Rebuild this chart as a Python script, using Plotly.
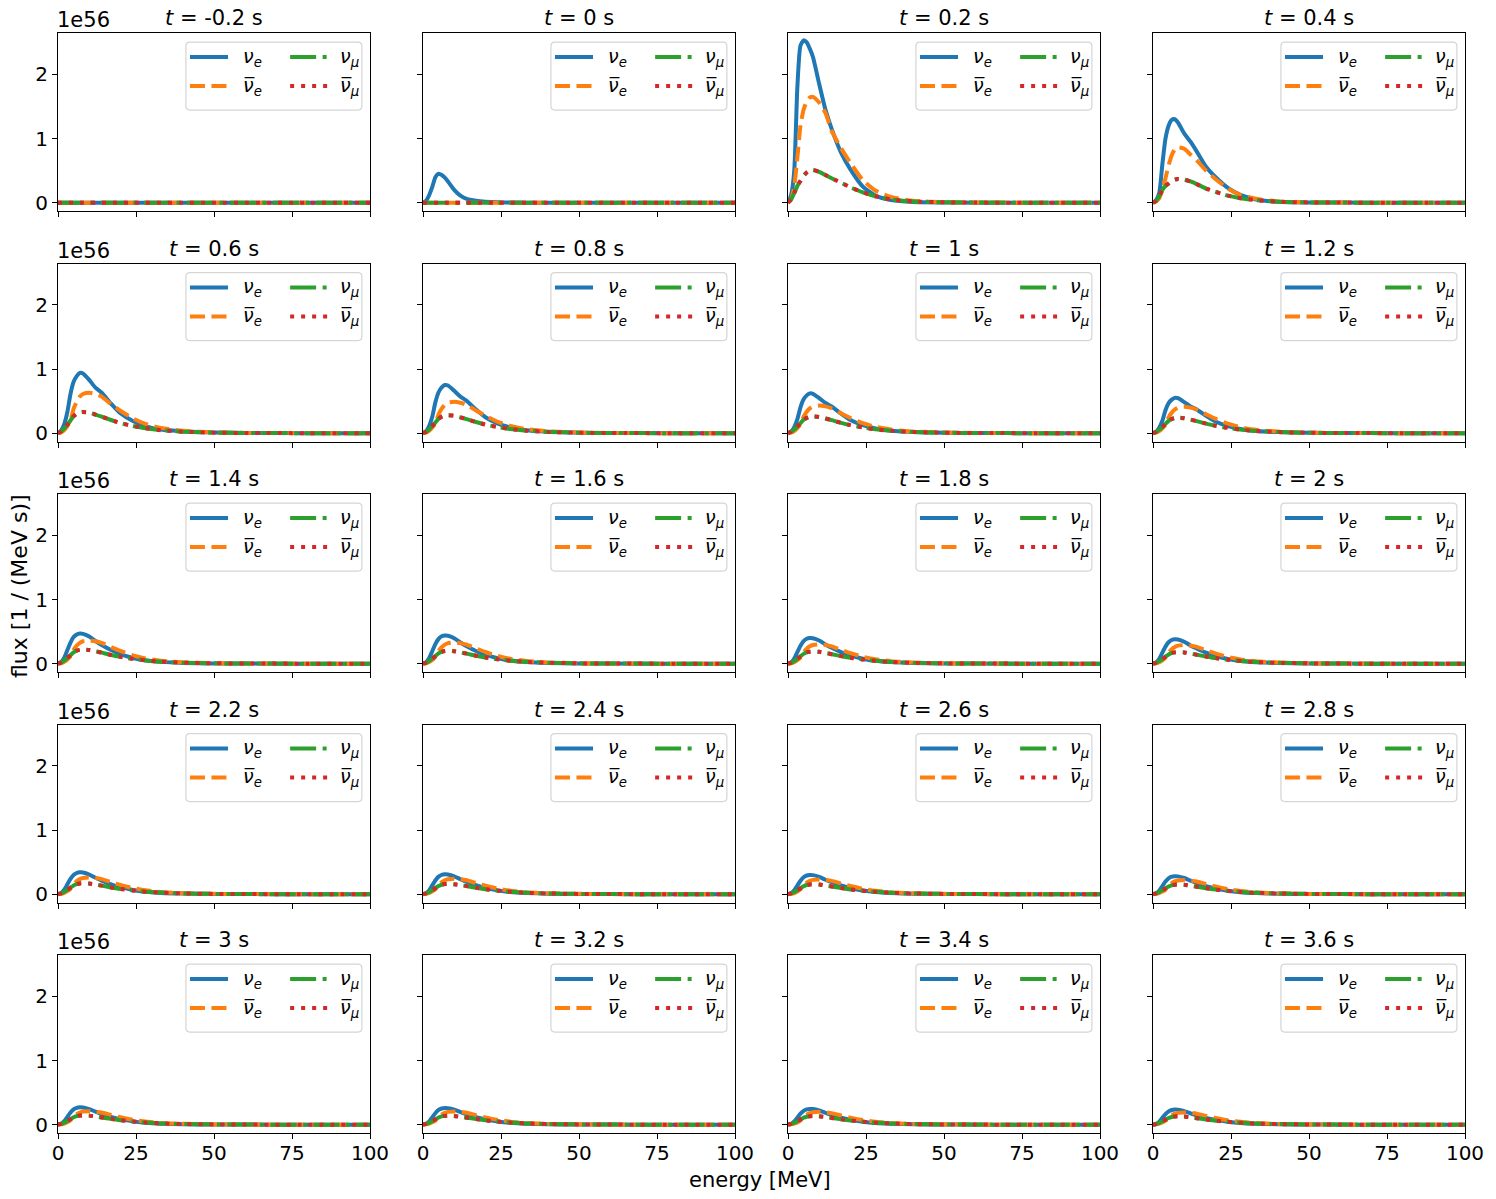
import plotly.graph_objects as go

# ---------------- data (flux in units of 1e56 / (MeV s)) ----------------
energy = [0, 1, 2, 3, 4, 5, 6, 7, 8, 10, 12, 14, 17, 20, 24, 28, 33, 40, 50, 60, 80, 100]

times = ["-0.2", "0", "0.2", "0.4", "0.6", "0.8", "1", "1.2", "1.4", "1.6",
         "1.8", "2", "2.2", "2.4", "2.6", "2.8", "3", "3.2", "3.4", "3.6"]

nu_e = [
    [0] * 22,
    [0, 0.03, 0.12, 0.25, 0.40, 0.45, 0.43, 0.39, 0.33, 0.20, 0.11, 0.06, 0.03, 0.015, 0.005, 0.002, 0, 0, 0, 0, 0, 0],
    [0, 0.12, 0.50, 1.80, 2.45, 2.53, 2.50, 2.40, 2.27, 1.85, 1.45, 1.15, 0.78, 0.52, 0.25, 0.11, 0.04, 0.01, 0.003, 0, 0, 0],
    [0, 0.04, 0.15, 0.60, 1.00, 1.20, 1.29, 1.30, 1.25, 1.08, 0.95, 0.80, 0.56, 0.40, 0.23, 0.12, 0.05, 0.015, 0.004, 0.001, 0, 0],
    [0, 0.04, 0.14, 0.33, 0.61, 0.80, 0.89, 0.94, 0.93, 0.83, 0.71, 0.63, 0.46, 0.31, 0.19, 0.11, 0.056, 0.028, 0.009, 0.003, 0, 0],
    [0, 0.03, 0.113, 0.263, 0.488, 0.638, 0.713, 0.75, 0.743, 0.66, 0.57, 0.503, 0.368, 0.248, 0.15, 0.09, 0.045, 0.023, 0.008, 0.002, 0, 0],
    [0, 0.025, 0.093, 0.217, 0.403, 0.527, 0.589, 0.62, 0.614, 0.546, 0.471, 0.415, 0.304, 0.205, 0.124, 0.074, 0.037, 0.019, 0.006, 0.002, 0, 0],
    [0, 0.022, 0.083, 0.193, 0.358, 0.468, 0.523, 0.55, 0.545, 0.484, 0.418, 0.369, 0.27, 0.182, 0.11, 0.066, 0.033, 0.017, 0.006, 0.002, 0, 0],
    [0, 0.024, 0.094, 0.212, 0.329, 0.414, 0.456, 0.47, 0.465, 0.423, 0.353, 0.291, 0.212, 0.15, 0.089, 0.052, 0.028, 0.012, 0.004, 0.001, 0, 0],
    [0, 0.022, 0.088, 0.198, 0.308, 0.387, 0.427, 0.44, 0.436, 0.396, 0.33, 0.273, 0.198, 0.141, 0.084, 0.048, 0.026, 0.011, 0.004, 0.001, 0, 0],
    [0, 0.02, 0.08, 0.18, 0.28, 0.352, 0.388, 0.40, 0.396, 0.36, 0.30, 0.248, 0.18, 0.128, 0.076, 0.044, 0.024, 0.01, 0.003, 0.001, 0, 0],
    [0, 0.019, 0.076, 0.171, 0.266, 0.334, 0.369, 0.38, 0.376, 0.342, 0.285, 0.236, 0.171, 0.122, 0.072, 0.042, 0.023, 0.01, 0.003, 0.001, 0, 0],
    [0, 0.017, 0.068, 0.153, 0.238, 0.299, 0.33, 0.34, 0.337, 0.306, 0.255, 0.211, 0.153, 0.109, 0.065, 0.037, 0.02, 0.009, 0.003, 0.001, 0, 0],
    [0, 0.016, 0.062, 0.14, 0.217, 0.273, 0.301, 0.31, 0.307, 0.279, 0.233, 0.192, 0.14, 0.099, 0.059, 0.034, 0.019, 0.008, 0.002, 0.001, 0, 0],
    [0, 0.015, 0.06, 0.135, 0.21, 0.264, 0.291, 0.30, 0.297, 0.27, 0.225, 0.186, 0.135, 0.096, 0.057, 0.033, 0.018, 0.008, 0.002, 0.001, 0, 0],
    [0, 0.014, 0.056, 0.126, 0.196, 0.246, 0.272, 0.28, 0.277, 0.252, 0.21, 0.174, 0.126, 0.09, 0.053, 0.031, 0.017, 0.007, 0.002, 0.001, 0, 0],
    [0, 0.014, 0.054, 0.122, 0.189, 0.238, 0.262, 0.27, 0.267, 0.243, 0.203, 0.167, 0.122, 0.086, 0.051, 0.03, 0.016, 0.007, 0.002, 0.001, 0, 0],
    [0, 0.013, 0.052, 0.117, 0.182, 0.229, 0.252, 0.26, 0.257, 0.234, 0.195, 0.161, 0.117, 0.083, 0.049, 0.029, 0.016, 0.007, 0.002, 0.001, 0, 0],
    [0, 0.012, 0.049, 0.11, 0.172, 0.216, 0.238, 0.245, 0.243, 0.221, 0.184, 0.152, 0.11, 0.078, 0.047, 0.027, 0.015, 0.006, 0.002, 0, 0, 0],
    [0, 0.012, 0.047, 0.106, 0.165, 0.207, 0.228, 0.235, 0.233, 0.212, 0.176, 0.146, 0.106, 0.075, 0.045, 0.026, 0.014, 0.006, 0.002, 0, 0, 0],
]

nu_e_bar = [
    [0] * 22,
    [0] * 22,
    [0, 0.05, 0.25, 0.70, 1.20, 1.45, 1.58, 1.64, 1.65, 1.56, 1.40, 1.12, 0.85, 0.62, 0.35, 0.19, 0.09, 0.03, 0.008, 0.002, 0, 0],
    [0, 0.02, 0.07, 0.20, 0.38, 0.58, 0.74, 0.83, 0.86, 0.84, 0.75, 0.66, 0.50, 0.37, 0.22, 0.12, 0.06, 0.02, 0.005, 0.001, 0, 0],
    [0, 0.013, 0.05, 0.11, 0.20, 0.38, 0.49, 0.57, 0.61, 0.63, 0.61, 0.57, 0.45, 0.35, 0.23, 0.145, 0.082, 0.038, 0.013, 0.004, 0.001, 0],
    [0, 0.01, 0.039, 0.088, 0.157, 0.294, 0.382, 0.441, 0.475, 0.49, 0.475, 0.441, 0.353, 0.27, 0.176, 0.113, 0.064, 0.029, 0.01, 0.003, 0, 0],
    [0, 0.009, 0.034, 0.077, 0.138, 0.258, 0.335, 0.387, 0.417, 0.43, 0.417, 0.387, 0.31, 0.237, 0.155, 0.099, 0.056, 0.026, 0.009, 0.003, 0, 0],
    [0, 0.008, 0.033, 0.074, 0.131, 0.246, 0.32, 0.369, 0.398, 0.41, 0.398, 0.369, 0.295, 0.226, 0.148, 0.094, 0.053, 0.025, 0.008, 0.002, 0, 0],
    [0, 0.007, 0.029, 0.065, 0.115, 0.216, 0.281, 0.324, 0.349, 0.36, 0.349, 0.324, 0.259, 0.198, 0.13, 0.083, 0.047, 0.022, 0.007, 0.002, 0, 0],
    [0, 0.007, 0.026, 0.059, 0.106, 0.198, 0.257, 0.297, 0.32, 0.33, 0.32, 0.297, 0.238, 0.182, 0.119, 0.076, 0.043, 0.02, 0.007, 0.002, 0, 0],
    [0, 0.006, 0.024, 0.054, 0.096, 0.18, 0.234, 0.27, 0.291, 0.30, 0.291, 0.27, 0.216, 0.165, 0.108, 0.069, 0.039, 0.018, 0.006, 0.002, 0, 0],
    [0, 0.006, 0.023, 0.052, 0.093, 0.174, 0.226, 0.261, 0.281, 0.29, 0.281, 0.261, 0.209, 0.16, 0.104, 0.067, 0.038, 0.017, 0.006, 0.002, 0, 0],
    [0, 0.005, 0.021, 0.047, 0.083, 0.156, 0.203, 0.234, 0.252, 0.26, 0.252, 0.234, 0.187, 0.143, 0.094, 0.06, 0.034, 0.016, 0.005, 0.002, 0, 0],
    [0, 0.005, 0.019, 0.043, 0.077, 0.144, 0.187, 0.216, 0.233, 0.24, 0.233, 0.216, 0.173, 0.132, 0.086, 0.055, 0.031, 0.014, 0.005, 0.001, 0, 0],
    [0, 0.005, 0.018, 0.041, 0.074, 0.138, 0.179, 0.207, 0.223, 0.23, 0.223, 0.207, 0.166, 0.127, 0.083, 0.053, 0.03, 0.014, 0.005, 0.001, 0, 0],
    [0, 0.004, 0.018, 0.04, 0.07, 0.132, 0.172, 0.198, 0.213, 0.22, 0.213, 0.198, 0.158, 0.121, 0.079, 0.051, 0.029, 0.013, 0.004, 0.001, 0, 0],
    [0, 0.004, 0.017, 0.038, 0.067, 0.126, 0.164, 0.189, 0.204, 0.21, 0.204, 0.189, 0.151, 0.116, 0.076, 0.048, 0.027, 0.013, 0.004, 0.001, 0, 0],
    [0, 0.004, 0.016, 0.037, 0.066, 0.123, 0.16, 0.185, 0.199, 0.205, 0.199, 0.185, 0.148, 0.113, 0.074, 0.047, 0.027, 0.012, 0.004, 0.001, 0, 0],
    [0, 0.004, 0.016, 0.036, 0.064, 0.12, 0.156, 0.18, 0.194, 0.20, 0.194, 0.18, 0.144, 0.11, 0.072, 0.046, 0.026, 0.012, 0.004, 0.001, 0, 0],
    [0, 0.004, 0.015, 0.034, 0.061, 0.114, 0.148, 0.171, 0.184, 0.19, 0.184, 0.171, 0.137, 0.105, 0.068, 0.044, 0.025, 0.011, 0.004, 0.001, 0, 0],
]

nu_mu = [
    [0] * 22,
    [0] * 22,
    [0, 0.05, 0.15, 0.26, 0.34, 0.42, 0.47, 0.50, 0.51, 0.48, 0.43, 0.38, 0.31, 0.24, 0.16, 0.10, 0.05, 0.02, 0.005, 0.001, 0, 0],
    [0, 0.03, 0.10, 0.20, 0.26, 0.30, 0.34, 0.36, 0.37, 0.36, 0.33, 0.29, 0.22, 0.17, 0.11, 0.07, 0.04, 0.015, 0.004, 0.001, 0, 0],
    [0, 0.026, 0.073, 0.132, 0.198, 0.264, 0.304, 0.323, 0.33, 0.32, 0.29, 0.257, 0.205, 0.158, 0.112, 0.076, 0.046, 0.023, 0.008, 0.003, 0, 0],
    [0, 0.022, 0.062, 0.112, 0.168, 0.224, 0.258, 0.274, 0.28, 0.272, 0.246, 0.218, 0.174, 0.134, 0.095, 0.064, 0.039, 0.02, 0.007, 0.002, 0, 0],
    [0, 0.021, 0.057, 0.104, 0.156, 0.208, 0.239, 0.255, 0.26, 0.252, 0.229, 0.203, 0.161, 0.125, 0.088, 0.06, 0.036, 0.018, 0.007, 0.002, 0, 0],
    [0, 0.019, 0.053, 0.096, 0.144, 0.192, 0.221, 0.235, 0.24, 0.233, 0.211, 0.187, 0.149, 0.115, 0.082, 0.055, 0.034, 0.017, 0.006, 0.002, 0, 0],
    [0, 0.018, 0.048, 0.088, 0.132, 0.176, 0.202, 0.216, 0.22, 0.213, 0.194, 0.172, 0.136, 0.106, 0.075, 0.051, 0.031, 0.015, 0.006, 0.002, 0, 0],
    [0, 0.016, 0.044, 0.08, 0.12, 0.16, 0.184, 0.196, 0.20, 0.194, 0.176, 0.156, 0.124, 0.096, 0.068, 0.046, 0.028, 0.014, 0.005, 0.002, 0, 0],
    [0, 0.015, 0.042, 0.076, 0.114, 0.152, 0.175, 0.186, 0.19, 0.184, 0.167, 0.148, 0.118, 0.091, 0.065, 0.044, 0.027, 0.013, 0.005, 0.002, 0, 0],
    [0, 0.014, 0.04, 0.072, 0.108, 0.144, 0.166, 0.176, 0.18, 0.175, 0.158, 0.14, 0.112, 0.086, 0.061, 0.041, 0.025, 0.013, 0.005, 0.001, 0, 0],
    [0, 0.014, 0.037, 0.068, 0.102, 0.136, 0.156, 0.167, 0.17, 0.165, 0.15, 0.133, 0.105, 0.082, 0.058, 0.039, 0.024, 0.012, 0.004, 0.001, 0, 0],
    [0, 0.013, 0.035, 0.064, 0.096, 0.128, 0.147, 0.157, 0.16, 0.155, 0.141, 0.125, 0.099, 0.077, 0.054, 0.037, 0.022, 0.011, 0.004, 0.001, 0, 0],
    [0, 0.012, 0.034, 0.062, 0.093, 0.124, 0.143, 0.152, 0.155, 0.15, 0.136, 0.121, 0.096, 0.074, 0.053, 0.036, 0.022, 0.011, 0.004, 0.001, 0, 0],
    [0, 0.012, 0.033, 0.06, 0.09, 0.12, 0.138, 0.147, 0.15, 0.146, 0.132, 0.117, 0.093, 0.072, 0.051, 0.035, 0.021, 0.011, 0.004, 0.001, 0, 0],
    [0, 0.012, 0.032, 0.058, 0.087, 0.116, 0.133, 0.142, 0.145, 0.141, 0.128, 0.113, 0.09, 0.07, 0.049, 0.033, 0.02, 0.01, 0.004, 0.001, 0, 0],
    [0, 0.011, 0.031, 0.056, 0.084, 0.112, 0.129, 0.137, 0.14, 0.136, 0.123, 0.109, 0.087, 0.067, 0.048, 0.032, 0.02, 0.01, 0.004, 0.001, 0, 0],
    [0, 0.011, 0.03, 0.054, 0.081, 0.108, 0.124, 0.132, 0.135, 0.131, 0.119, 0.105, 0.084, 0.065, 0.046, 0.031, 0.019, 0.009, 0.003, 0.001, 0, 0],
    [0, 0.01, 0.029, 0.052, 0.078, 0.104, 0.12, 0.127, 0.13, 0.126, 0.114, 0.101, 0.081, 0.062, 0.044, 0.03, 0.018, 0.009, 0.003, 0.001, 0, 0],
]

# the anti-muon-neutrino curves lie on top of the muon-neutrino curves
nu_mu_bar = [list(row) for row in nu_mu]

species_labels = [
    "<i>ν</i><sub><i>e</i></sub>",
    "<i>ν̅</i><sub><i>e</i></sub>",
    "<i>ν</i><sub><i>μ</i></sub>",
    "<i>ν̅</i><sub><i>μ</i></sub>",
]

# ---------------- styles ----------------
FONT = "DejaVu Sans"
colors = ["#1f77b4", "#ff7f0e", "#2ca02c", "#d62728"]
dashes = ["solid", "15px,6.5px", "26px,6.5px,4px,6.5px", "4px,7px"]
LW = 4
series = [nu_e, nu_e_bar, nu_mu, nu_mu_bar]

W, H = 1496, 1199
col_left = [58, 423, 788, 1153]
panel_w = 312
row_top = [33, 263.5, 494, 724.5, 955]
panel_h = 178

fig = go.Figure()
layout = dict(
    width=W, height=H,
    margin=dict(l=0, r=0, t=0, b=0, pad=0, autoexpand=False),
    paper_bgcolor="white", plot_bgcolor="white",
    showlegend=False,
    font=dict(family=FONT, color="black", size=20),
)
shapes = []
annotations = []

for k in range(20):
    r, c = divmod(k, 4)
    ax = "" if k == 0 else str(k + 1)
    xd = [col_left[c] / W, (col_left[c] + panel_w) / W]
    yd = [1 - (row_top[r] + panel_h) / H, 1 - row_top[r] / H]
    common = dict(
        showgrid=False, zeroline=False, showline=True, mirror=True,
        linecolor="black", linewidth=1.2, ticks="outside", ticklen=5,
        tickwidth=1.2, tickcolor="black", fixedrange=True, automargin=False,
        tickfont=dict(family=FONT, size=20, color="black"),
    )
    layout["xaxis" + ax] = dict(
        domain=xd, range=[0, 100], anchor="y" + ax,
        tickvals=[0, 25, 50, 75, 100], ticktext=["0", "25", "50", "75", "100"],
        showticklabels=(r == 4), ticklabelstandoff=-3, **common,
    )
    layout["yaxis" + ax] = dict(
        domain=yd, range=[-0.13, 2.645], anchor="x" + ax,
        tickvals=[0, 1, 2], ticktext=["0", "1", "2"],
        showticklabels=(c == 0), **common,
    )
    for s in range(4):
        fig.add_trace(go.Scatter(
            x=energy, y=series[s][k], mode="lines",
            line=dict(color=colors[s], width=LW, dash=dashes[s],
                      shape="spline", smoothing=0.6),
            xaxis="x" + ax, yaxis="y" + ax, hoverinfo="skip",
        ))

    xr = "x" + ax + " domain"
    yr = "y" + ax + " domain"
    # title
    annotations.append(dict(
        text=f"<i>t</i> = {times[k]} s", xref=xr, yref=yr, x=0.5, y=1,
        xanchor="center", yanchor="bottom", yshift=1, showarrow=False,
        font=dict(family=FONT, size=21, color="black"),
    ))
    if c == 0:
        annotations.append(dict(
            text="1e56", xref=xr, yref=yr, x=0, y=1,
            xanchor="left", yanchor="bottom", xshift=-3, yshift=-1, showarrow=False,
            font=dict(family=FONT, size=21, color="black"),
        ))
    # legend box (rounded)
    bx0, bx1, by0, by1 = 0.41, 0.974, 0.567, 0.949
    rx, ry = 4 / panel_w, 4 / panel_h
    path = (f"M {bx0+rx},{by0} L {bx1-rx},{by0} Q {bx1},{by0} {bx1},{by0+ry} "
            f"L {bx1},{by1-ry} Q {bx1},{by1} {bx1-rx},{by1} "
            f"L {bx0+rx},{by1} Q {bx0},{by1} {bx0},{by1-ry} "
            f"L {bx0},{by0+ry} Q {bx0},{by0} {bx0+rx},{by0} Z")
    shapes.append(dict(type="path", path=path, xref=xr, yref=yr,
                       line=dict(color="#d5d5d5", width=1.2),
                       fillcolor="rgba(255,255,255,0.8)", layer="above"))
    hx = [(0.423, 0.545), (0.423, 0.545), (0.744, 0.866), (0.744, 0.866)]
    lx = [0.587, 0.587, 0.897, 0.897]
    ly = [0.865, 0.702, 0.865, 0.702]
    for s in range(4):
        shapes.append(dict(type="line", xref=xr, yref=yr,
                           x0=hx[s][0], x1=hx[s][1], y0=ly[s], y1=ly[s],
                           line=dict(color=colors[s], width=LW, dash=dashes[s]),
                           layer="above"))
        annotations.append(dict(
            text=species_labels[s], xref=xr, yref=yr, x=lx[s], y=ly[s],
            xanchor="left", yanchor="middle", showarrow=False,
            font=dict(family=FONT, size=19, color="black"),
        ))

annotations.append(dict(
    text="energy [MeV]", xref="paper", yref="paper", x=760 / W, y=1 - 1180 / H,
    xanchor="center", yanchor="middle", showarrow=False,
    font=dict(family=FONT, size=21, color="black"),
))
annotations.append(dict(
    text="flux [1 / (MeV s)]", xref="paper", yref="paper", x=19 / W, y=1 - 586 / H,
    xanchor="center", yanchor="middle", textangle=-90, showarrow=False,
    font=dict(family=FONT, size=22, color="black"),
))

layout["shapes"] = shapes
layout["annotations"] = annotations
fig.update_layout(**layout)
fig.write_html("out.html")
